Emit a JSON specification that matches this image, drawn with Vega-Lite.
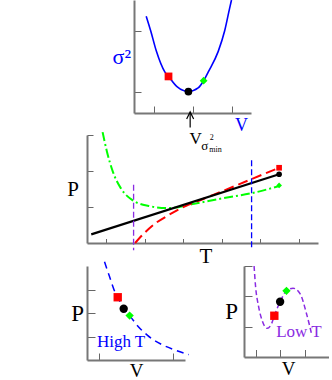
{
  "$schema": "https://vega.github.io/schema/vega-lite/v6.json",
  "background": "white",
  "padding": {"left": 66, "top": 0, "right": 0, "bottom": 0},
  "config": {
    "view": {"stroke": null},
    "axis": {"labels": false, "grid": false, "domainColor": "#777777", "domainWidth": 2, "tickColor": "#666666", "tickWidth": 1, "titleFont": "Liberation Serif", "titleFontWeight": "normal", "titleColor": "black"},
    "text": {"font": "Liberation Serif"}
  },
  "datasets": {
    "topCurve": [{"v":0.626,"s2":4.71},{"v":0.855,"s2":4.0},{"v":1.15,"s2":3.0},{"v":1.58,"s2":2.0},{"v":1.77,"s2":1.78},{"v":2.22,"s2":1.27},{"v":2.79,"s2":1.045},{"v":3.29,"s2":1.22},{"v":3.57,"s2":1.57},{"v":3.81,"s2":2.0},{"v":4.32,"s2":3.0},{"v":4.65,"s2":4.0},{"v":4.9,"s2":5.08},{"v":5.0,"s2":5.5}],
    "topPts": [{"v":1.77,"s2":1.78,"k":"sq"},{"v":2.79,"s2":1.045,"k":"ci"},{"v":3.57,"s2":1.57,"k":"di"}],
    "arrow": [{"v":2.88,"a":0,"b":-0.7,"h":-0.12}],
    "midBlack": [{"t":0.22,"p":0.24},{"t":9.98,"p":1.91}],
    "midRed": [{"t":2.5,"p":0},{"t":2.95,"p":0.26},{"t":3.54,"p":0.54},{"t":4.22,"p":0.77},{"t":4.89,"p":0.97},{"t":6.07,"p":1.23},{"t":7.26,"p":1.49},{"t":8.61,"p":1.79},{"t":9.98,"p":2.09}],
    "midGreen": [{"t":0.81,"p":3.08},{"t":1.04,"p":2.53},{"t":1.35,"p":1.97},{"t":1.77,"p":1.51},{"t":2.36,"p":1.19},{"t":3.2,"p":1.03},{"t":4.22,"p":0.97},{"t":5.57,"p":1.09},{"t":6.92,"p":1.23},{"t":8.61,"p":1.39},{"t":9.98,"p":1.58}],
    "midRuleLow": [{"t":2.42,"p1":1.62,"p2":-0.2}],
    "midRuleHigh": [{"t":8.55,"p1":2.3,"p2":-0.2}],
    "midPts": [{"t":9.98,"p":2.09,"k":"sq"},{"t":9.98,"p":1.91,"k":"ci"},{"t":9.98,"p":1.6,"k":"di"}],
    "midLabel": [{"t":5.64,"p":2.76,"tv":6.12,"pv":2.575,"t2":6.48,"p2":2.86,"tm":6.68,"pm":2.52}],
    "blCurve": [{"v":0.714,"p":4.18},{"v":0.916,"p":3.56},{"v":1.146,"p":2.88},{"v":1.254,"p":2.67},{"v":1.497,"p":2.18},{"v":1.74,"p":1.89},{"v":2.06,"p":1.46},{"v":2.47,"p":1.05},{"v":3.01,"p":0.68},{"v":3.55,"p":0.44},{"v":4.155,"p":0.23}],
    "blPts": [{"v":1.254,"p":2.67,"k":"sq"},{"v":1.497,"p":2.18,"k":"ci"},{"v":1.74,"p":1.89,"k":"di"}],
    "blLabel": [{"v":1.39,"p":0.54,"txt":"High T"}],
    "brCurve": [{"v":0.415,"p":3.0},{"v":0.475,"p":2.34},{"v":0.594,"p":1.69},{"v":0.749,"p":1.2},{"v":0.951,"p":0.945},{"v":1.13,"p":1.09},{"v":1.249,"p":1.36},{"v":1.487,"p":1.82},{"v":1.749,"p":2.18},{"v":2.02,"p":2.27},{"v":2.32,"p":2.07},{"v":2.56,"p":1.47},{"v":2.8,"p":0.7}],
    "brPts": [{"v":1.249,"p":1.36,"k":"sq"},{"v":1.487,"p":1.82,"k":"ci"},{"v":1.749,"p":2.18,"k":"di"}],
    "brLabel": [{"v":2.26,"p":0.65,"txt":"Low T"}]
  },
  "spacing": -6,
  "vconcat": [
    {
      "spacing": 0,
      "hconcat": [
        {"width": 25, "height": 113, "data": {"values": [{"a": 0}]}, "mark": {"type": "point", "opacity": 0}},
        {
          "width": 117, "height": 113,
          "layer": [
            {"data": {"name": "topCurve"}, "mark": {"type": "line", "color": "#0000ff", "strokeWidth": 1.6, "interpolate": "monotone", "clip": true},
             "encoding": {
               "x": {"field": "v", "type": "quantitative", "scale": {"domain": [0, 5.75]}, "axis": {"values": [1,2,3,4,5], "tickSize": -7, "title": "V", "titleColor": "#0000ff", "titleFontSize": 18, "titleX": 107, "titleY": 17, "titleBaseline": "alphabetic", "titleAlign": "center"}},
               "y": {"field": "s2", "type": "quantitative", "scale": {"domain": [0, 5.07]}, "axis": {"values": [1,2,3,4], "tickSize": -7, "title": "σ²", "titleColor": "#0000ff", "titleFontSize": 22, "titleAngle": 0, "titleAlign": "right", "titleBaseline": "middle", "titlePadding": 3}}
             }},
            {"data": {"name": "arrow"}, "mark": {"type": "rule", "color": "black", "strokeWidth": 1.2},
             "encoding": {"x": {"field": "v", "type": "quantitative"}, "y": {"field": "a", "type": "quantitative"}, "y2": {"field": "b"}}},
            {"data": {"name": "arrow"}, "mark": {"type": "point", "shape": "M-1,1L0,-1L1,1", "filled": false, "stroke": "black", "strokeWidth": 1.2, "size": 49, "opacity": 1},
             "encoding": {"x": {"field": "v", "type": "quantitative"}, "y": {"field": "h", "type": "quantitative"}}},
            {"data": {"name": "topPts"}, "mark": {"type": "point", "filled": true, "size": 60, "opacity": 1},
             "encoding": {"x": {"field": "v", "type": "quantitative"}, "y": {"field": "s2", "type": "quantitative"},
               "shape": {"field": "k", "type": "nominal", "scale": {"domain": ["sq","ci","di"], "range": ["square","circle","diamond"]}, "legend": null},
               "color": {"field": "k", "type": "nominal", "scale": {"domain": ["sq","ci","di"], "range": ["#ff0000","#000000","#00ff00"]}, "legend": null}}}
          ]
        }
      ]
    },
    {
      "spacing": -9,
      "vconcat": [
        {
          "width": 231, "height": 108,
          "layer": [
            {"data": {"name": "midGreen"}, "mark": {"type": "line", "color": "#00ff00", "strokeWidth": 2, "strokeDash": [9,3,2,3], "interpolate": "monotone"},
             "encoding": {
               "x": {"field": "t", "type": "quantitative", "scale": {"domain": [0, 11.7]}, "axis": {"values": [1,2,3,4,5,6,7,8,9,10,11], "tickSize": -4.5, "title": "T", "titleFontSize": 21, "titleX": 118.5, "titleY": 19, "titleBaseline": "alphabetic", "titleAlign": "center"}},
               "y": {"field": "p", "type": "quantitative", "scale": {"domain": [0, 3]}, "axis": {"values": [1,2,3], "tickSize": -6, "title": "P", "titleFontSize": 21, "titleAngle": 0, "titleAlign": "right", "titleBaseline": "middle", "titlePadding": 8}}
             }},
            {"data": {"name": "midRed"}, "mark": {"type": "line", "color": "#ff0000", "strokeWidth": 2, "strokeDash": [10,5], "interpolate": "monotone"},
             "encoding": {"x": {"field": "t", "type": "quantitative"}, "y": {"field": "p", "type": "quantitative"}}},
            {"data": {"name": "midBlack"}, "mark": {"type": "line", "color": "#000000", "strokeWidth": 2.2},
             "encoding": {"x": {"field": "t", "type": "quantitative"}, "y": {"field": "p", "type": "quantitative"}}},
            {"data": {"name": "midRuleLow"}, "mark": {"type": "rule", "strokeWidth": 1.3, "strokeDash": [6,3], "color": "#8a2be2"},
             "encoding": {"x": {"field": "t", "type": "quantitative"}, "y": {"field": "p1", "type": "quantitative"}, "y2": {"field": "p2"}}},
            {"data": {"name": "midRuleHigh"}, "mark": {"type": "rule", "strokeWidth": 1.3, "strokeDash": [6,3], "color": "#0000ff"},
             "encoding": {"x": {"field": "t", "type": "quantitative"}, "y": {"field": "p1", "type": "quantitative"}, "y2": {"field": "p2"}}},
            {"data": {"name": "midPts"}, "mark": {"type": "point", "filled": true, "size": 32, "opacity": 1},
             "encoding": {"x": {"field": "t", "type": "quantitative"}, "y": {"field": "p", "type": "quantitative"},
               "shape": {"field": "k", "type": "nominal", "scale": {"domain": ["sq","ci","di"], "range": ["square","circle","diamond"]}, "legend": null},
               "fill": {"field": "k", "type": "nominal", "scale": {"domain": ["sq","ci","di"], "range": ["#ff0000","#000000","#00ff00"]}, "legend": null}}},
            {"data": {"name": "midLabel"}, "mark": {"type": "text", "text": "V", "fontSize": 17, "baseline": "alphabetic", "align": "center", "color": "black"},
             "encoding": {"x": {"field": "t", "type": "quantitative"}, "y": {"field": "p", "type": "quantitative"}}},
            {"data": {"name": "midLabel"}, "mark": {"type": "text", "text": "σ", "fontSize": 13, "baseline": "alphabetic", "align": "center", "color": "black"},
             "encoding": {"x": {"field": "tv", "type": "quantitative"}, "y": {"field": "pv", "type": "quantitative"}}},
            {"data": {"name": "midLabel"}, "mark": {"type": "text", "text": "2", "fontSize": 8, "baseline": "alphabetic", "align": "center", "color": "black"},
             "encoding": {"x": {"field": "t2", "type": "quantitative"}, "y": {"field": "p2", "type": "quantitative"}}},
            {"data": {"name": "midLabel"}, "mark": {"type": "text", "text": "min", "fontSize": 8, "baseline": "alphabetic", "align": "center", "color": "black"},
             "encoding": {"x": {"field": "tm", "type": "quantitative"}, "y": {"field": "pm", "type": "quantitative"}}}
          ]
        },
        {
          "spacing": 32,
          "hconcat": [
            {
              "width": 98, "height": 94,
              "layer": [
                {"data": {"name": "blCurve"}, "mark": {"type": "line", "color": "#0000ff", "strokeWidth": 1.5, "strokeDash": [7,5], "interpolate": "monotone"},
                 "encoding": {
                   "x": {"field": "v", "type": "quantitative", "scale": {"domain": [0, 3.97]}, "axis": {"values": [0.5,1.5,2.5,3.5], "tickSize": -7, "title": "V", "titleFontSize": 19, "titleX": 49, "titleY": 16.5, "titleBaseline": "alphabetic", "titleAlign": "center"}},
                   "y": {"field": "p", "type": "quantitative", "scale": {"domain": [0, 3.84]}, "axis": {"values": [1,2,3], "tickSize": -8, "title": "P", "titleFontSize": 23, "titleAngle": 0, "titleAlign": "right", "titleBaseline": "middle", "titlePadding": 3}}
                 }},
                {"data": {"name": "blPts"}, "mark": {"type": "point", "filled": true, "size": 70, "opacity": 1},
                 "encoding": {"x": {"field": "v", "type": "quantitative"}, "y": {"field": "p", "type": "quantitative"},
                   "shape": {"field": "k", "type": "nominal", "scale": {"domain": ["sq","ci","di"], "range": ["square","circle","diamond"]}, "legend": null},
                   "fill": {"field": "k", "type": "nominal", "scale": {"domain": ["sq","ci","di"], "range": ["#ff0000","#000000","#00ff00"]}, "legend": null}}},
                {"data": {"name": "blLabel"}, "mark": {"type": "text", "fontSize": 17, "baseline": "alphabetic", "align": "center", "color": "#0000ff"},
                 "encoding": {"x": {"field": "v", "type": "quantitative"}, "y": {"field": "p", "type": "quantitative"}, "text": {"field": "txt"}}}
              ]
            },
            {
              "width": 85, "height": 91,
              "layer": [
                {"data": {"name": "brCurve"}, "mark": {"type": "line", "color": "#8a2be2", "strokeWidth": 1.5, "strokeDash": [5,3], "interpolate": "monotone"},
                 "encoding": {
                   "x": {"field": "v", "type": "quantitative", "scale": {"domain": [0, 3.04]}, "axis": {"values": [0.5,1.5,2.5], "tickSize": -7.5, "title": "V", "titleFontSize": 19, "titleX": 44, "titleY": 17, "titleBaseline": "alphabetic", "titleAlign": "center"}},
                   "y": {"field": "p", "type": "quantitative", "scale": {"domain": [0, 3]}, "axis": {"values": [1,2,3], "tickSize": -8, "title": "P", "titleFontSize": 23, "titleAngle": 0, "titleAlign": "right", "titleBaseline": "middle", "titlePadding": 6}}
                 }},
                {"data": {"name": "brPts"}, "mark": {"type": "point", "filled": true, "size": 70, "opacity": 1},
                 "encoding": {"x": {"field": "v", "type": "quantitative"}, "y": {"field": "p", "type": "quantitative"},
                   "shape": {"field": "k", "type": "nominal", "scale": {"domain": ["sq","ci","di"], "range": ["square","circle","diamond"]}, "legend": null},
                   "fill": {"field": "k", "type": "nominal", "scale": {"domain": ["sq","ci","di"], "range": ["#ff0000","#000000","#00ff00"]}, "legend": null}}},
                {"data": {"name": "brLabel"}, "mark": {"type": "text", "fontSize": 17, "baseline": "alphabetic", "align": "center", "color": "#8a2be2"},
                 "encoding": {"x": {"field": "v", "type": "quantitative"}, "y": {"field": "p", "type": "quantitative"}, "text": {"field": "txt"}}}
              ]
            }
          ]
        }
      ]
    }
  ]
}
